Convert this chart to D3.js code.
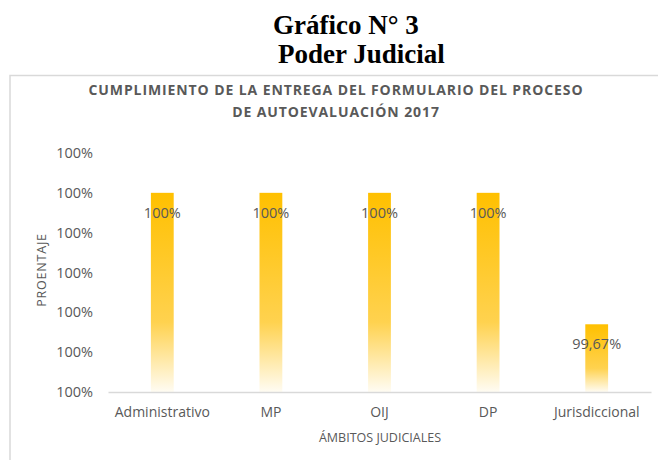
<!DOCTYPE html>
<html lang="es">
  <head>
    <meta charset="utf-8" />
    <title>Gráfico N° 3</title>
    <script src="https://cdn.jsdelivr.net/npm/d3@7"></script>
    <style>
      body { margin: 0; background: white; }
    </style>
  </head>
  <body>
    <script>
var categories = ["Administrativo", "MP", "OIJ", "DP", "Jurisdiccional"];
var values = [1.0, 1.0, 1.0, 1.0, 0.9967];
var valueLabels = ["100%", "100%", "100%", "100%", "99,67%"];
var tickValues = [0.995, 0.996, 0.997, 0.998, 0.999, 1.000, 1.001];
var tickLabels = ["100%", "100%", "100%", "100%", "100%", "100%", "100%"];

var w = 658;
var h = 460;
var pad = { left: 108, right: 7, top: 153, bottom: 68 };
var font = "'Open Sans', sans-serif";
var grey = "#595959";

var svg = d3.select("body")
            .append("svg")
            .attr("width", w)
            .attr("height", h);

// gradient fill for the bars
var grad = svg.append("defs")
              .append("linearGradient")
              .attr("id", "barFill")
              .attr("x1", 0).attr("y1", 0)
              .attr("x2", 0).attr("y2", 1);
grad.append("stop").attr("offset", "0%").attr("stop-color", "#ffc000");
grad.append("stop").attr("offset", "65%").attr("stop-color", "#ffd24f");
grad.append("stop").attr("offset", "100%").attr("stop-color", "#fffcf3");

// document heading
svg.append("text")
   .text("Gráfico N° 3")
   .attr("x", 273).attr("y", 34)
   .attr("font-family", "'Liberation Serif', 'Times New Roman', serif")
   .attr("font-weight", "bold")
   .attr("font-size", "27px")
   .attr("fill", "black");
svg.append("text")
   .text("Poder Judicial")
   .attr("x", 278).attr("y", 63)
   .attr("font-family", "'Liberation Serif', 'Times New Roman', serif")
   .attr("font-weight", "bold")
   .attr("font-size", "27px")
   .attr("fill", "black");

// chart frame (left and top edges visible)
svg.append("path")
   .attr("d", "M10," + h + "V75.5H" + w)
   .attr("fill", "none")
   .attr("stroke", "#d9d9d9")
   .attr("stroke-width", 1.5);

// chart title
var titleLines = ["CUMPLIMIENTO DE LA ENTREGA DEL FORMULARIO DEL PROCESO",
                  "DE AUTOEVALUACIÓN 2017"];
svg.append("g")
   .selectAll("text")
   .data(titleLines)
   .enter()
   .append("text")
   .text(function(d) { return d; })
   .attr("x", 336)
   .attr("y", function(d, i) { return 95 + i * 22; })
   .attr("text-anchor", "middle")
   .attr("font-family", font)
   .attr("font-weight", "bold")
   .attr("font-size", "14px")
   .attr("letter-spacing", "0.9px")
   .attr("fill", grey);

var x = d3.scaleBand()
          .domain(categories)
          .range([pad.left, w - pad.right])
          .paddingInner(0.79)
          .paddingOuter(0.395);
var y = d3.scaleLinear()
          .domain([0.995, 1.001])
          .range([h - pad.bottom, pad.top]);

// y axis labels
var yAxis = d3.axisLeft(y)
              .tickValues(tickValues)
              .tickSize(0)
              .tickPadding(0)
              .tickFormat(function(d, i) { return tickLabels[i]; });
var yg = svg.append("g")
            .attr("transform", "translate(93,0)")
            .call(yAxis);
yg.select(".domain").remove();
yg.selectAll("text")
  .attr("font-family", font)
  .attr("font-size", "14.5px")
  .attr("fill", grey);

// bars
svg.append("g")
   .selectAll("rect")
   .data(values)
   .enter()
   .append("rect")
   .attr("x", function(d, i) { return x(categories[i]); })
   .attr("y", function(d) { return y(d); })
   .attr("width", x.bandwidth())
   .attr("height", function(d) { return y(0.995) - y(d); })
   .attr("fill", "url(#barFill)");

// x axis
var xAxis = d3.axisBottom(x).tickSize(0).tickPadding(15);
var xg = svg.append("g")
            .attr("transform", "translate(0," + y(0.995) + ")")
            .call(xAxis);
xg.select(".domain")
  .attr("stroke", "#d9d9d9")
  .attr("stroke-width", 1.5);
xg.selectAll("text")
  .attr("font-family", font)
  .attr("font-size", "14px")
  .attr("fill", grey);

// value labels
svg.append("g")
   .selectAll("text")
   .data(values)
   .enter()
   .append("text")
   .text(function(d, i) { return valueLabels[i]; })
   .attr("x", function(d, i) { return x(categories[i]) + x.bandwidth() / 2; })
   .attr("y", function(d) { return y(d) + 25; })
   .attr("text-anchor", "middle")
   .attr("font-family", font)
   .attr("font-size", "14.5px")
   .attr("fill", grey);

// axis titles
svg.append("text")
   .text("ÁMBITOS JUDICIALES")
   .attr("x", 380).attr("y", 442)
   .attr("text-anchor", "middle")
   .attr("font-family", font)
   .attr("font-size", "12.5px")
   .attr("fill", grey);
svg.append("text")
   .text("PROENTAJE")
   .attr("transform", "translate(46,270) rotate(-90)")
   .attr("text-anchor", "middle")
   .attr("font-family", font)
   .attr("font-size", "12.5px")
   .attr("letter-spacing", "0.8px")
   .attr("fill", grey);
    </script>
  </body>
</html>
